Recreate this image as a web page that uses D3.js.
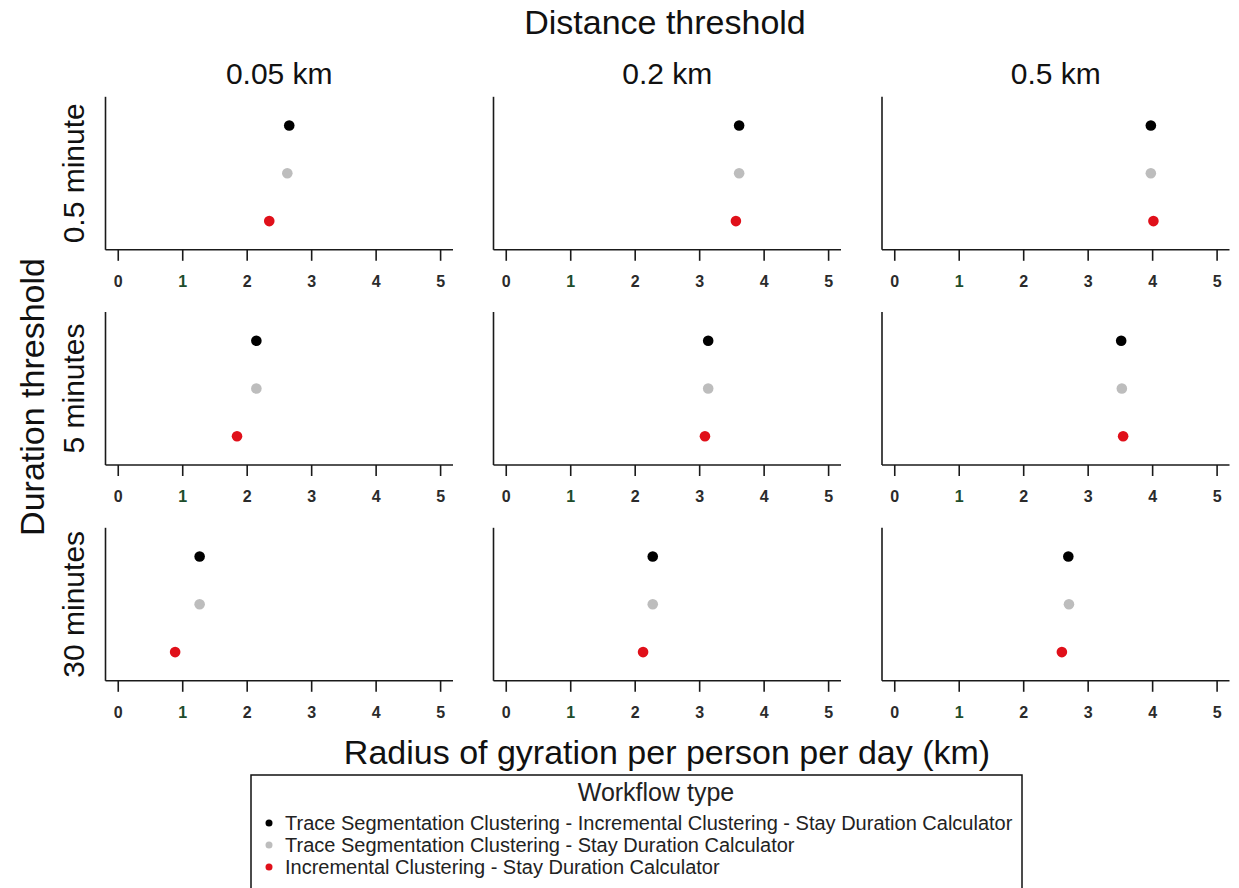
<!DOCTYPE html>
<html>
<head>
<meta charset="utf-8">
<script src="https://cdn.jsdelivr.net/npm/d3@7"></script>
<style>
  html, body { margin: 0; padding: 0; background: #fff; }
  svg { display: block; }
</style>
</head>
<body>
<svg id="chart" width="1239" height="888"></svg>
<script>
// Facet levels
const distances = ["0.05 km", "0.2 km", "0.5 km"];
const durations = ["0.5 minute", "5 minutes", "30 minutes"];
const workflows = [
  "Trace Segmentation Clustering - Incremental Clustering - Stay Duration Calculator",
  "Trace Segmentation Clustering - Stay Duration Calculator",
  "Incremental Clustering - Stay Duration Calculator"
];
const workflowColors = ["#000000", "#bdbdbd", "#e0101a"];
const xTicks = [0, 1, 2, 3, 4, 5];

// Radius of gyration (km), ordered by duration row then distance column
const tsIcSdc = [2.66, 3.62, 3.98,  2.15, 3.14, 3.52,  1.27, 2.28, 2.70];
const tsSdc   = [2.63, 3.62, 3.98,  2.15, 3.14, 3.53,  1.27, 2.28, 2.71];
const icSdc   = [2.35, 3.57, 4.02,  1.85, 3.09, 3.55,  0.89, 2.13, 2.60];

const seriesValues = [tsIcSdc, tsSdc, icSdc];

const svg = d3.select("#chart");
const font = "Liberation Sans, Arial, sans-serif";
const narrow = "'Liberation Sans Narrow', 'Arial Narrow', 'Liberation Sans', Arial, sans-serif";

const panelW = 347.5, panelH = 153;
const colLeft = [105.5, 493.5, 882];
const rowTop = [96.8, 312, 527.8];

const x = d3.scaleLinear().domain([-0.19, 5.2]).range([0, panelW]);
const y = d3.scalePoint().domain(workflows).range([0, panelH]).padding(0.6);

const axisColor = "#1a1a1a";

durations.forEach((dur, r) => {
  distances.forEach((dist, c) => {
    const g = svg.append("g").attr("transform", `translate(${colLeft[c]},${rowTop[r]})`);
    const idx = r * 3 + c;
    const pts = workflows.map((w, k) => ({ w, v: seriesValues[k][idx], color: workflowColors[k] }));

    g.selectAll("circle").data(pts).join("circle")
      .attr("cx", d => x(d.v))
      .attr("cy", d => y(d.w))
      .attr("r", 5.3)
      .attr("fill", d => d.color);

    // left axis line
    g.append("line")
      .attr("x1", 0).attr("x2", 0).attr("y1", 0).attr("y2", panelH)
      .attr("stroke", axisColor).attr("stroke-width", 1.6);

    // bottom axis
    const ax = g.append("g").attr("transform", `translate(0,${panelH})`)
      .call(d3.axisBottom(x).tickValues(xTicks).tickFormat(d3.format("d")).tickSizeOuter(0).tickSizeInner(11).tickPadding(15));
    ax.attr("font-size", 16);
    ax.select(".domain").attr("stroke", axisColor).attr("stroke-width", 1.6);
    ax.selectAll(".tick line").attr("stroke", axisColor).attr("stroke-width", 1.6);
    ax.selectAll(".tick text")
      .attr("font-family", font).attr("font-weight", "bold").attr("font-size", 16)
      .attr("fill", d => d === 1 ? "#1e4d2b" : "#2b2b2b");
    // extend domain line to the left axis
    ax.select(".domain").attr("d", `M0,0H${panelW}`);

    if (r === 0) {
      svg.append("text")
        .attr("x", colLeft[c] + panelW / 2).attr("y", 84)
        .attr("text-anchor", "middle")
        .attr("font-family", font).attr("font-size", 30).attr("fill", "#111")
        .text(dist);
    }
  });
  svg.append("text")
    .attr("transform", `translate(84,${rowTop[r] + panelH / 2}) rotate(-90)`)
    .attr("text-anchor", "middle")
    .attr("font-family", font).attr("font-size", 30).attr("fill", "#111")
    .text(dur);
});

// overall titles
svg.append("text")
  .attr("x", 665).attr("y", 34)
  .attr("text-anchor", "middle")
  .attr("font-family", font).attr("font-size", 34).attr("fill", "#111")
  .text("Distance threshold");

svg.append("text")
  .attr("transform", `translate(44,397) rotate(-90)`)
  .attr("text-anchor", "middle")
  .attr("font-family", font).attr("font-size", 34).attr("fill", "#111")
  .text("Duration threshold");

svg.append("text")
  .attr("x", 667).attr("y", 764)
  .attr("text-anchor", "middle")
  .attr("font-family", font).attr("font-size", 34).attr("fill", "#111")
  .text("Radius of gyration per person per day (km)");

// legend
const lg = svg.append("g");
lg.append("rect")
  .attr("x", 251).attr("y", 775).attr("width", 771).attr("height", 130)
  .attr("fill", "#fff").attr("stroke", "#111").attr("stroke-width", 1.5);

lg.append("text")
  .attr("x", 656).attr("y", 801)
  .attr("text-anchor", "middle")
  .attr("font-family", narrow).attr("font-size", 25).attr("fill", "#222")
  .text("Workflow type");

const itemY = d3.scalePoint().domain(workflows).range([823, 867]);
const items = lg.selectAll("g.item").data(workflows).join("g").attr("class", "item");
items.append("circle")
  .attr("cx", 269).attr("cy", d => itemY(d)).attr("r", 3.5)
  .attr("fill", (d, i) => workflowColors[i]);
items.append("text")
  .attr("x", 285).attr("y", d => itemY(d) + 7)
  .attr("font-family", narrow).attr("font-size", 20).attr("fill", "#222")
  .text(d => d);
</script>
</body>
</html>
